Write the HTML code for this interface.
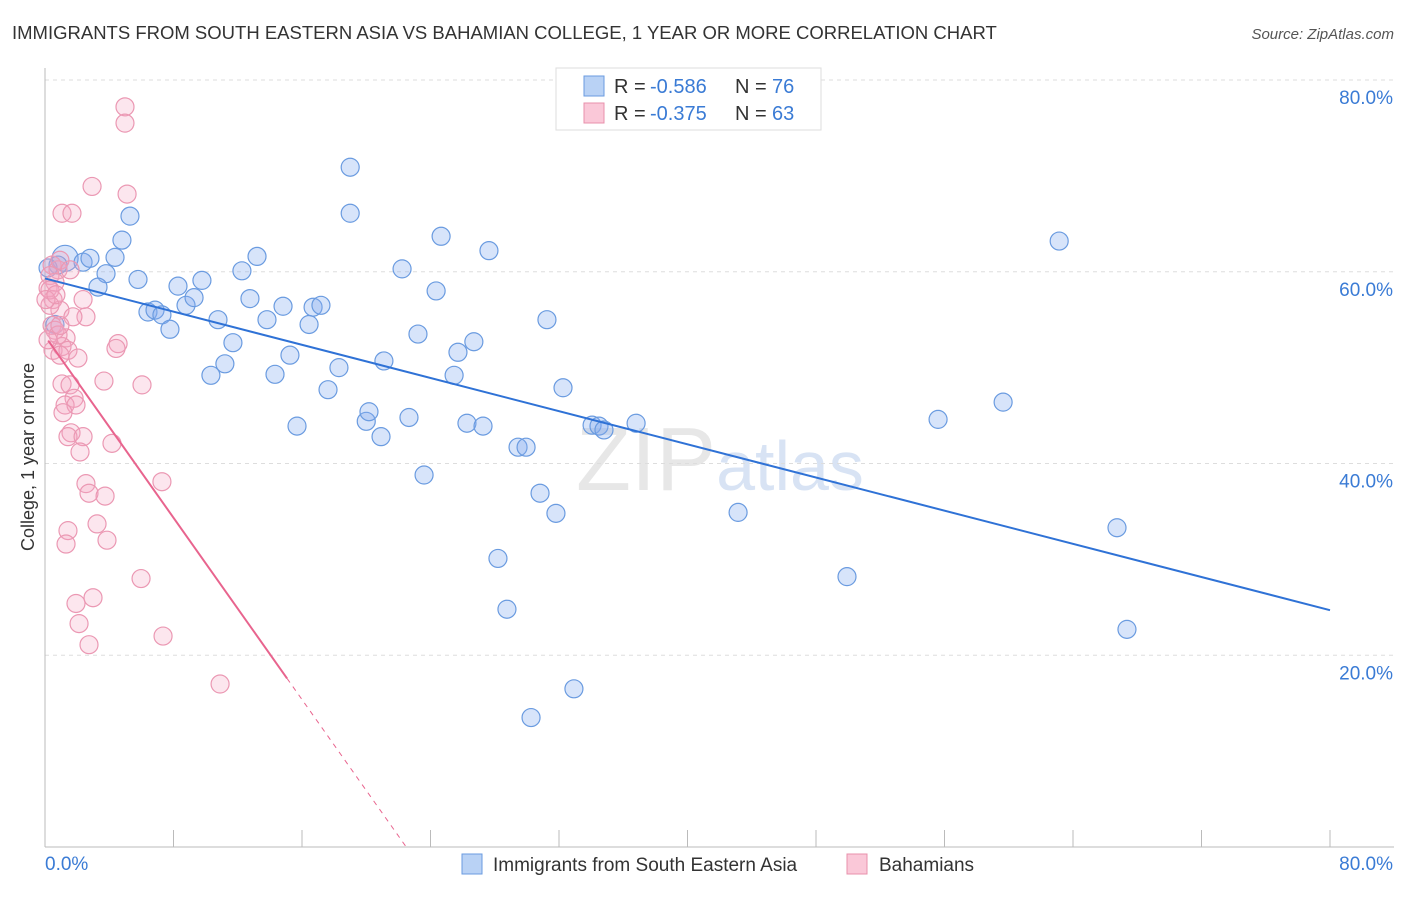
<!DOCTYPE html>
<html><head><meta charset="utf-8"><style>
body{margin:0;background:#fff;font-family:"Liberation Sans",sans-serif;}
svg text{font-family:"Liberation Sans",sans-serif;}
</style></head><body>
<svg id="chart" width="1406" height="892" xmlns="http://www.w3.org/2000/svg">
<text x="12" y="39" font-size="18.5" fill="#333">IMMIGRANTS FROM SOUTH EASTERN ASIA VS BAHAMIAN COLLEGE, 1 YEAR OR MORE CORRELATION CHART</text>
<text x="1394" y="39" font-size="15" fill="#555" text-anchor="end" font-style="italic">Source: ZipAtlas.com</text>
<text x="720" y="490" font-size="90" fill="#ddd" text-anchor="middle" font-family="Liberation Serif" opacity="0.7">ZIP<tspan fill="#c8d8f0" font-family="Liberation Sans" font-size="70">atlas</tspan></text>
<g id="grid"></g>
<g id="axes"></g>
<g id="pts"></g>
<g id="lines"></g>
<text transform="translate(34,457) rotate(-90)" font-size="18" fill="#333" text-anchor="middle">College, 1 year or more</text>
<g>
<rect x="556" y="68" width="265" height="62" fill="#fff" stroke="#ddd"/>
<rect x="584" y="76" width="20" height="20" fill="#b9d2f5" stroke="#6a9be0"/>
<text x="614" y="93" font-size="20" fill="#333">R =</text>
<text x="650" y="93" font-size="20" fill="#3a7bd5">-0.586</text>
<text x="735" y="93" font-size="20" fill="#333">N =</text>
<text x="772" y="93" font-size="20" fill="#3a7bd5">76</text>
<rect x="584" y="103" width="20" height="20" fill="#fac8d8" stroke="#e890ab"/>
<text x="614" y="120" font-size="20" fill="#333">R =</text>
<text x="650" y="120" font-size="20" fill="#3a7bd5">-0.375</text>
<text x="735" y="120" font-size="20" fill="#333">N =</text>
<text x="772" y="120" font-size="20" fill="#3a7bd5">63</text>
</g>
<g>
<rect x="462" y="854" width="20" height="20" fill="#b9d2f5" stroke="#6a9be0"/>
<text x="493" y="871" font-size="19" fill="#333">Immigrants from South Eastern Asia</text>
<rect x="847" y="854" width="20" height="20" fill="#fac8d8" stroke="#e890ab"/>
<text x="879" y="871" font-size="19" fill="#333">Bahamians</text>
</g>
</svg>
<script>
const blueX=[1.25,0.81,0.19,2.37,2.8,3.8,4.36,3.3,4.79,5.29,5.79,6.41,6.85,7.28,7.78,8.28,8.78,9.28,9.77,10.33,10.77,11.2,11.7,12.26,12.76,13.2,13.82,14.32,14.82,15.25,15.69,16.44,16.69,17.18,17.62,18.3,19.0,19.0,20.0,20.17,20.92,21.1,22.23,22.66,23.22,23.6,24.35,24.66,25.47,25.71,26.27,26.7,27.27,27.64,28.2,28.76,29.45,29.95,30.26,30.82,31.25,31.81,32.25,32.93,34.06,34.49,34.8,36.8,43.15,49.93,55.6,59.65,63.14,66.74,67.36,0.62];
const blueY=[61.4,60.7,60.4,61.0,61.4,59.8,61.5,58.4,63.3,65.8,59.2,55.8,56.0,55.5,54.0,58.5,56.5,57.3,59.1,49.2,55.0,50.4,52.6,60.1,57.2,61.6,55.0,49.3,56.4,51.3,43.9,54.5,56.3,56.5,47.7,50.0,70.9,66.1,44.4,45.4,42.8,50.7,60.3,44.8,53.5,38.8,58.0,63.7,49.2,51.6,44.2,52.7,43.9,62.2,30.1,24.8,41.7,41.7,13.5,36.9,55.0,34.8,47.9,16.5,44.0,43.9,43.5,44.2,34.9,28.2,44.6,46.4,63.2,33.3,22.7,54.5];
const pinkX=[4.98,4.98,2.93,5.11,1.06,1.68,0.44,0.81,0.31,0.62,0.19,0.5,2.37,0.93,0.31,2.55,1.74,1.31,4.55,4.42,1.06,0.5,1.43,2.05,0.93,3.67,6.04,1.06,1.56,1.81,1.25,1.93,1.12,1.62,1.43,2.37,4.17,2.18,7.28,2.55,2.74,3.74,1.43,3.24,3.86,1.31,5.98,2.99,1.93,2.12,7.35,2.74,10.9,0.44,0.62,0.81,0.93,0.31,0.06,0.68,1.56,0.19,0.93];
const pinkY=[77.2,75.5,68.9,68.1,66.1,66.1,60.7,60.2,59.6,58.9,58.3,57.1,57.1,56.0,56.5,55.3,55.3,53.1,52.5,52.0,52.2,51.8,51.8,51.0,51.3,48.6,48.2,48.3,48.2,46.8,46.1,46.1,45.3,43.2,42.8,42.8,42.1,41.2,38.1,37.9,36.9,36.6,33.0,33.7,32.0,31.6,28.0,26.0,25.4,23.3,22.0,21.1,17.0,54.4,53.9,53.4,61.2,58.1,57.1,57.6,60.2,52.9,54.4];
const yTicks=[20,40,60,80];
const xTicks=[0,8,16,24,32,40,48,56,64,72,80];
const blueTrend=[59.3,24.7];
const pinkTrend=[53.3,-2.37,15.07];
const NS='http://www.w3.org/2000/svg';
const sx=v=>45+v*1285/80, sy=v=>847-v*767/80;
function mk(tag,attrs,parent){const e=document.createElementNS(NS,tag);for(const k in attrs)e.setAttribute(k,attrs[k]);document.getElementById(parent).appendChild(e);return e;}
yTicks.forEach(t=>{
 const l=mk('line',{x1:45,x2:1394,y1:sy(t),y2:sy(t),stroke:'#ddd','stroke-dasharray':'4,4'},'grid');
 
 
 const tx=mk('text',{x:1393,y:sy(t)+24,'font-size':19,fill:'#3a7bd5','text-anchor':'end'},'grid');
 tx.textContent=t.toFixed(1)+'%';
 
 
});
mk('line',{x1:45,x2:45,y1:68,y2:847,stroke:'#bbb'},'axes');
mk('line',{x1:45,x2:1394,y1:847,y2:847,stroke:'#bbb'},'axes');
xTicks.forEach(t=>{const l=mk('line',{x1:sx(t),x2:sx(t),y1:830,y2:847,stroke:'#bbb'},'axes');
 
 });
let a=mk('text',{x:45,y:870,'font-size':19,fill:'#3a7bd5'},'axes');a.textContent='0.0%';


a=mk('text',{x:1393,y:870,'font-size':19,fill:'#3a7bd5','text-anchor':'end'},'axes');a.textContent='80.0%';


blueX.forEach((x,i)=>{const c=mk('circle',{cx:sx(x),cy:sy(blueY[i]),r:i<1?13:9,fill:'rgba(130,172,238,0.32)',stroke:'#6a9be0','stroke-width':1.2},'pts');
 
 });
pinkX.forEach((x,i)=>{const c=mk('circle',{cx:sx(x),cy:sy(pinkY[i]),r:9,fill:'rgba(245,165,195,0.28)',stroke:'#eb98b3','stroke-width':1.2},'pts');
 
 });
let l=mk('line',{x1:sx(0),y1:sy(blueTrend[0]),x2:sx(80),y2:sy(blueTrend[1]),stroke:'#2f72d6','stroke-width':2},'lines');


const pe=pinkTrend[2], pz=-pinkTrend[0]/pinkTrend[1];
l=mk('line',{x1:sx(0.2),y1:sy(pinkTrend[0]+pinkTrend[1]*0.2),x2:sx(pe),y2:sy(pinkTrend[0]+pinkTrend[1]*pe),stroke:'#e8648e','stroke-width':2},'lines');


l=mk('line',{x1:sx(pe),y1:sy(pinkTrend[0]+pinkTrend[1]*pe),x2:sx(pz),y2:sy(0),stroke:'#e8648e','stroke-width':1,'stroke-dasharray':'5,5'},'lines');


</script>
</body></html>
